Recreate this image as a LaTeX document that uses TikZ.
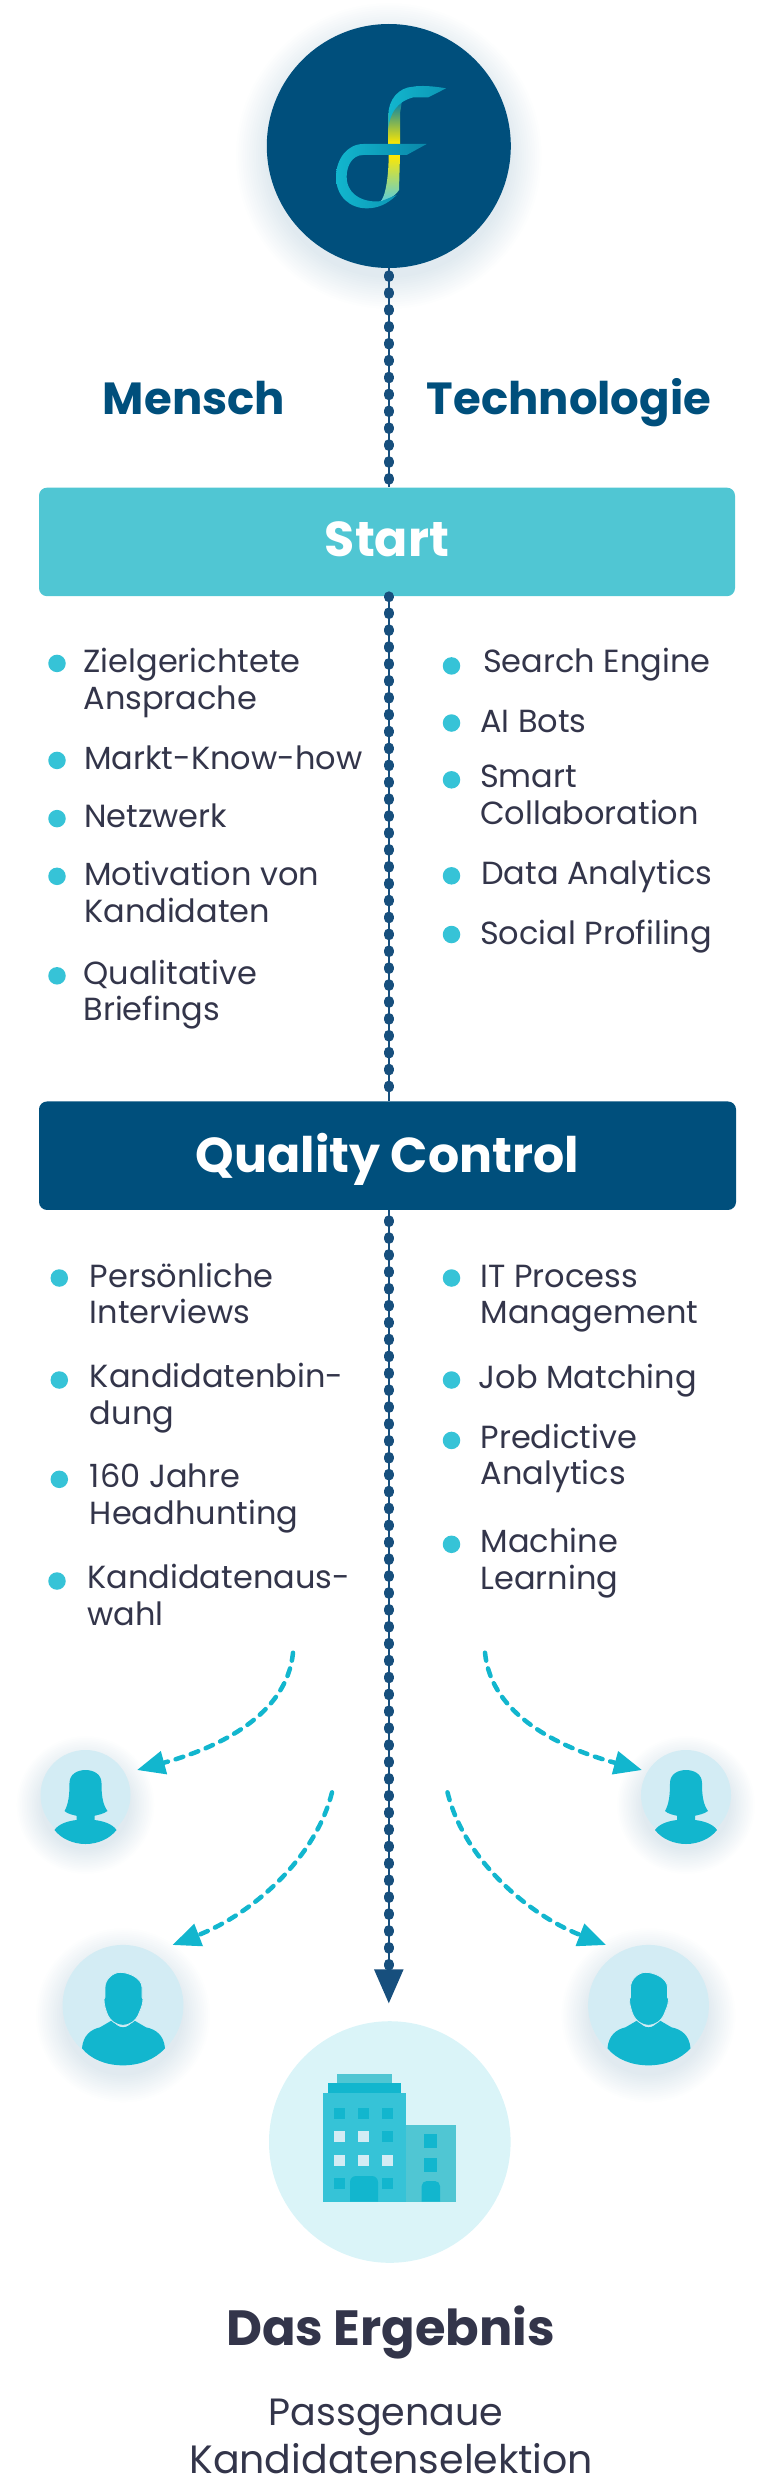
\documentclass[tikz,border=0pt]{standalone}
\usepackage{fontspec}
\usepackage{xcolor}
\usetikzlibrary{arrows.meta}
\setmainfont{Poppins}
\definecolor{navy}{HTML}{004F7C}
\definecolor{beadblue}{HTML}{174F7D}
\definecolor{startteal}{HTML}{50C6D3}
\definecolor{iconteal}{HTML}{12B6CE}
\definecolor{dotteal}{HTML}{36C3D7}
\definecolor{inktext}{HTML}{33354A}
\definecolor{palecircle}{HTML}{D3ECF4}
\definecolor{paleresult}{HTML}{DAF4F8}
\definecolor{logoyellow}{HTML}{FFE800}
\begin{document}
\begin{tikzpicture}[x=1pt,y=-1pt]
    \tikzstyle{head}=[inner sep=0,anchor=base,text=navy,font=\fontsize{45}{54}\selectfont\bfseries]
    \tikzstyle{bar}=[rectangle,rounded corners=8,inner sep=0,minimum height=108.5,text=white,font=\fontsize{49}{54}\selectfont\bfseries]
    \tikzstyle{B}=[circle,fill=dotteal,inner sep=0,minimum size=17.5]
    \tikzstyle{T}=[inner sep=0,anchor=base west,align=left,text=inktext,font=\fontsize{32}{36.6}\selectfont]
    \tikzstyle{person}=[circle,fill=palecircle,inner sep=0]
    \tikzstyle{beads}=[line width=10,beadblue,line cap=round]
    \tikzstyle{thread}=[line width=2.5,beadblue]
    \tikzstyle{pick}=[line width=4.5,iconteal,line cap=round,dash pattern=on 8 off 8,-{Triangle[length=28pt,width=23pt]}]

    \useasboundingbox (0,0) rectangle (768,2486);

    % Soft shadows
    \foreach \cx/\cy/\cr/\cs in {388.8/146/122/2.2, 85.5/1795/45/1.7, 686/1795/45/1.7, 123/2005.3/60.4/1.9, 648.5/2005.3/60.4/1.9}
        \foreach \k in {0,...,14}
            \fill [navy, opacity=0.006] ({\cx},{\cy+10}) circle ({\cr+\cs*\k});

    % Circles and bars
    \node [circle,fill=navy,inner sep=0,minimum size=244] (logo) at (388.8,146) {};
    \node [bar,fill=startteal,minimum width=696,text height=34,text depth=5] (start) at (387,541.9) {Start};
    \node [bar,fill=navy,minimum width=697,text height=34.4,text depth=0] (quality) at (387.5,1155.7) {Quality Control};
    \node [circle,fill=paleresult,inner sep=0,minimum size=241.6] (result) at (389.8,2142) {};
    \coordinate (spineend) at (388.8,2003.3);

    % Spine
    \draw [thread] (logo.south) -- (logo.south |- start.north);
    \draw [thread] (logo.south |- start.south) -- (logo.south |- quality.north);
    \draw [thread,-{Triangle[length=34pt,width=29pt]}] (logo.south |- quality.south) -- (spineend);
    \draw [beads,dash pattern=on 1.7 off 15.2,dash phase=9.85] (logo.south) -- (logo.south |- start.north);
    \draw [beads,dash pattern=on 1.7 off 15.2,dash phase=0.85] (logo.south |- start.south) -- (logo.south |- quality.north);
    \draw [beads,dash pattern=on 1.7 off 15.2,dash phase=6.75] (logo.south |- quality.south) -- (logo.south |- 0,1969);

    % Logo
    \begin{scope}[shift={(200,0)},scale=1/3]
        \shade [top color=iconteal!50!navy, middle color=logoyellow, bottom color=logoyellow] (566,340) .. controls (570,325) and (590,315) .. (605,308) -- (600,340) -- (600,432) -- (566,432) -- cycle;
        \shade [top color=logoyellow, middle color=logoyellow!85!white, bottom color=iconteal!70!white] (566,465) -- (600,465) -- (597,570) .. controls (585,590) and (560,600) .. (540,605) .. controls (556,595) and (566,530) .. (566,465) -- cycle;
        \shade [left color=iconteal, right color=iconteal!70!navy] (738,265) .. controls (700,258) and (660,256) .. (640,260) .. controls (595,262) and (565,300) .. (565,345) -- (565,385) .. controls (570,340) and (590,305) .. (640,292) -- (685,292) -- cycle;
        \shade [left color=iconteal, right color=iconteal!55!navy] (680,432) -- (490,432) .. controls (440,432) and (408,480) .. (408,530) .. controls (408,590) and (450,625) .. (500,625) .. controls (530,625) and (560,615) .. (590,585) -- (545,603) .. controls (500,610) and (440,590) .. (440,530) .. controls (440,500) and (455,465) .. (490,465) -- (620,465) -- cycle;
    \end{scope}

    % Column heads
    \node [head] (mensch) at (194,414.6) {Mensch};
    \node [head] (technologie) at (569,414.6) {Technologie};

    % Start, left
    \node [B] (sl1) at (57,663.4) {};
    \node [B] (sl2) at (57,760.4) {};
    \node [B] (sl3) at (57,818.6) {};
    \node [B] (sl4) at (57,876.3) {};
    \node [B] (sl5) at (57,975.8) {};
    \node [T] (stl1) at (83.3,709.2) {Zielgerichtete\\Ansprache};
    \node [T] (stl2) at (84,769.4) {Markt-Know-how};
    \node [T] (stl3) at (84,827.6) {Netzwerk};
    \node [T] (stl4) at (84,922) {Motivation von\\Kandidaten};
    \node [T] (stl5) at (83.3,1020.6) {Qualitative\\Briefings};

    % Start, right
    \node [B] (sr1) at (451.5,665.9) {};
    \node [B] (sr2) at (451.5,723) {};
    \node [B] (sr3) at (451.5,779.8) {};
    \node [B] (sr4) at (451.5,875.8) {};
    \node [B] (sr5) at (451.5,934.5) {};
    \node [T] (str1) at (483,672.3) {Search Engine};
    \node [T] (str2) at (480,732) {AI Bots};
    \node [T] (str3) at (480,824) {Smart\\Collaboration};
    \node [T] (str4) at (481,884.8) {Data Analytics};
    \node [T] (str5) at (480,944.5) {Social Profiling};

    % Quality control, left
    \node [B] (ql1) at (59.3,1278) {};
    \node [B] (ql2) at (59.3,1380) {};
    \node [B] (ql3) at (59.3,1479.3) {};
    \node [B] (ql4) at (57,1581) {};
    \node [T] (qtl1) at (89.7,1323.6) {Persönliche\\Interviews};
    \node [T] (qtl2) at (89.7,1424.3) {Kandidatenbin-\\dung};
    \node [T] (qtl3) at (89.7,1524) {160 Jahre\\Headhunting};
    \node [T] (qtl4) at (87.3,1625) {Kandidatenaus-\\wahl};

    % Quality control, right
    \node [B] (qr1) at (451.5,1278) {};
    \node [B] (qr2) at (451.5,1380) {};
    \node [B] (qr3) at (451.5,1440.4) {};
    \node [B] (qr4) at (451.5,1544.3) {};
    \node [T] (qtr1) at (480.4,1323.6) {IT Process\\Management};
    \node [T] (qtr2) at (478.4,1388.6) {Job Matching};
    \node [T] (qtr3) at (480.4,1484.6) {Predictive\\Analytics};
    \node [T] (qtr4) at (480.4,1589.3) {Machine\\Learning};

    % Persons
    \node [person,minimum size=90] (womanl) at (85.5,1795) {};
    \node [person,minimum size=90] (womanr) at (686,1795) {};
    \node [person,minimum size=120.8] (manl) at (123,2005.3) {};
    \node [person,minimum size=120.8] (manr) at (648.5,2005.3) {};

    \foreach \who in {womanl,womanr} {
        \begin{scope}[shift={(\who)}]
            \fill [iconteal] (-16,-12) .. controls (-16,-21) and (-8,-25) .. (0,-25) .. controls (8,-25) and (16,-21) .. (16,-12) .. controls (16,0) and (17,9) .. (22,16) .. controls (18,19) and (12,20) .. (8,21) -- (-8,21) .. controls (-12,20) and (-18,19) .. (-21,16) .. controls (-17,9) and (-16,0) .. (-16,-12) -- cycle;
            \fill [iconteal] (-9,20) -- (9,20) -- (9,25) .. controls (18,26) and (27,29) .. (31,35) .. controls (24,44) and (12,49) .. (0,49) .. controls (-12,49) and (-24,44) .. (-31,35) .. controls (-27,29) and (-18,26) .. (-9,25) -- cycle;
        \end{scope}
    }
    \foreach \who in {manl,manr} {
        \begin{scope}[shift={(\who)}]
            \fill [iconteal] (-11,15) .. controls (-8,19) and (-4,22) .. (0,22) .. controls (4,22) and (8,19) .. (11,15) -- (23,22) .. controls (33,24) and (41,30) .. (42,43) .. controls (32,54) and (17,60) .. (0,60) .. controls (-17,60) and (-32,54) .. (-41,43) .. controls (-40,30) and (-32,24) .. (-23,22) -- cycle;
            \filldraw [fill=iconteal,draw=palecircle,line width=0.8] (-3,-33) .. controls (6,-33) and (19,-27) .. (19,-18) -- (19,-8) -- (20,-6) .. controls (20,0) and (17,5) .. (16,8) .. controls (13,16) and (6,20) .. (0,20) .. controls (-6,20) and (-13,16) .. (-16,8) .. controls (-17,5) and (-19,0) .. (-19,-6) -- (-18,-8) -- (-18,-18) .. controls (-18,-26) and (-10,-33) .. (-3,-33) -- cycle;
        \end{scope}
    }

    % Picks
    \coordinate (p1) at (293,1652.7);
    \coordinate (q1) at (137,1770);
    \coordinate (p2) at (485,1652.7);
    \coordinate (q2) at (642,1770);
    \coordinate (p3) at (332,1792.3);
    \coordinate (q3) at (172.5,1945);
    \coordinate (p4) at (447.5,1792.3);
    \coordinate (q4) at (606,1945);
    \draw [pick] (p1) .. controls (287,1715) and (218,1748) .. (q1);
    \draw [pick] (p2) .. controls (491,1715) and (560,1748) .. (q2);
    \draw [pick] (p3) .. controls (315,1860) and (250,1915) .. (q3);
    \draw [pick] (p4) .. controls (464,1860) and (529,1915) .. (q4);

    % Building
    \fill [startteal] (337.3,2074) rectangle (391.7,2083.5);
    \fill [iconteal] (328.3,2083.3) rectangle (401,2092.9);
    \fill [dotteal] (323.3,2092.7) rectangle (405.7,2201.7);
    \fill [startteal] (405.7,2125.3) rectangle (455.7,2201.7);
    \foreach \wx/\wy/\wc in {334/2108/iconteal, 358/2108/iconteal, 382.3/2108/iconteal,
        334/2131.3/palecircle, 358/2131.3/palecircle, 382.3/2131.3/iconteal,
        334/2154.7/palecircle, 358/2154.7/palecircle, 382.3/2154.7/palecircle,
        334/2178.3/iconteal, 382.3/2178.3/iconteal}
        \fill [\wc] (\wx,\wy) rectangle ({\wx+11},{\wy+11});
    \fill [iconteal] (350,2201.7) [rounded corners=6] -- (350,2176) -- (378,2176) [sharp corners] -- (378,2201.7) -- cycle;
    \fill [iconteal] (424,2134.3) rectangle (437.3,2148.3);
    \fill [iconteal] (424,2157.7) rectangle (437.3,2171.7);
    \fill [iconteal] (421.7,2201.7) [rounded corners=5] -- (421.7,2181) -- (440,2181) [sharp corners] -- (440,2201.7) -- cycle;

    % Result text
    \node [inner sep=0,anchor=base,text=inktext,font=\fontsize{49.5}{54}\selectfont\bfseries] (ergebnis) at (390.5,2345) {Das Ergebnis};
    \node [inner sep=0,anchor=base,text=inktext,font=\fontsize{38}{48}\selectfont] (passgenaue) at (386,2425) {Passgenaue};
    \node [inner sep=0,anchor=base,text=inktext,font=\fontsize{39.5}{48}\selectfont] (selektion) at (391.3,2473) {Kandidatenselektion};
\end{tikzpicture}
\end{document}
